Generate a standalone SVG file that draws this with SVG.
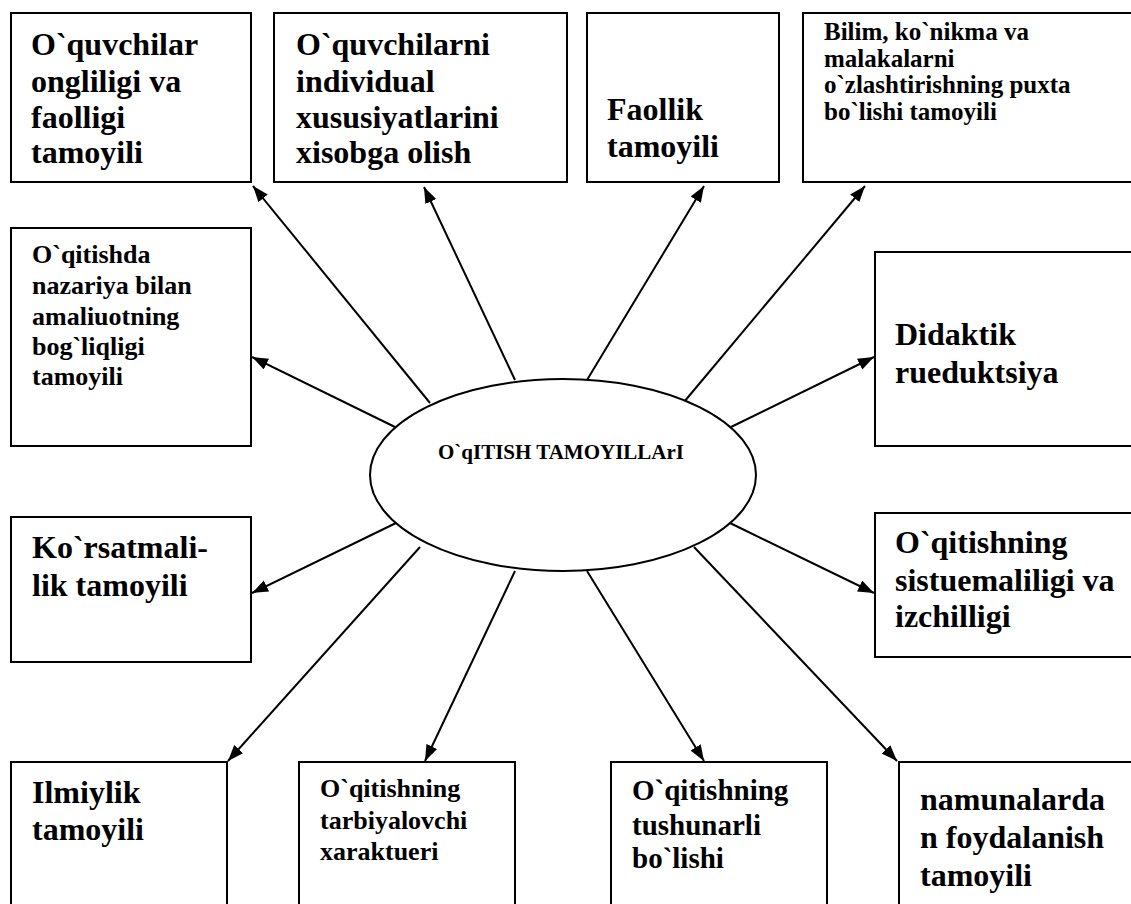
<svg xmlns="http://www.w3.org/2000/svg" width="1131" height="904" viewBox="0 0 1131 904">
<style>
.box{fill:#fff;stroke:#000;stroke-width:2}
.t{font-family:"Liberation Serif","Times New Roman",serif;font-weight:bold;fill:#000}
.big{font-size:32px}
.mid{font-size:26px}
.sm{font-size:25px}
.c{stroke:#000;stroke-width:2;fill:none;marker-end:url(#ah)}
</style>
<defs>
<marker id="ah" markerUnits="userSpaceOnUse" markerWidth="18" markerHeight="14" refX="16" refY="6" orient="auto">
<path d="M0,0 L16,6 L0,12 z" fill="#000"/>
</marker>
</defs>
<rect width="1131" height="904" fill="#fff"/>
<g id="connectors">
<line class="c" x1="430" y1="403" x2="253" y2="186"/>
<line class="c" x1="515" y1="380" x2="424" y2="187"/>
<line class="c" x1="587" y1="380" x2="704" y2="186"/>
<line class="c" x1="684" y1="402" x2="865" y2="186"/>
<line class="c" x1="395" y1="427" x2="252" y2="357"/>
<line class="c" x1="731" y1="427" x2="874" y2="357"/>
<line class="c" x1="396" y1="523" x2="252" y2="593"/>
<line class="c" x1="420" y1="547" x2="228" y2="761"/>
<line class="c" x1="515" y1="571" x2="425" y2="761"/>
<line class="c" x1="730" y1="523" x2="874" y2="593"/>
<line class="c" x1="587" y1="571" x2="704" y2="761"/>
<line class="c" x1="694" y1="547" x2="897" y2="761"/>
</g>
<g id="center">
<ellipse cx="563" cy="475" rx="193" ry="96" fill="#fff" stroke="#000" stroke-width="2"/>
<text class="t" x="561" y="459" font-size="21" text-anchor="middle">O`qITISH TAMOYILLArI</text>
</g>
<g id="n1">
<rect class="box" x="11" y="13" width="240" height="169"/>
<text class="t big" x="31"><tspan x="31" y="55">O`quvchilar</tspan><tspan x="31" y="92">ongliligi va</tspan><tspan x="31" y="128">faolligi</tspan><tspan x="31" y="163">tamoyili</tspan></text>
</g>
<g id="n2">
<rect class="box" x="274" y="13" width="293" height="169"/>
<text class="t big"><tspan x="296" y="55">O`quvchilarni</tspan><tspan x="296" y="92">individual</tspan><tspan x="296" y="128">xususiyatlarini</tspan><tspan x="296" y="163">xisobga olish</tspan></text>
</g>
<g id="n3">
<rect class="box" x="587" y="13" width="192" height="169"/>
<text class="t big"><tspan x="607" y="120">Faollik</tspan><tspan x="607" y="157">tamoyili</tspan></text>
</g>
<g id="n4">
<rect class="box" x="803" y="13" width="340" height="169"/>
<text class="t sm"><tspan x="824" y="40">Bilim, ko`nikma va</tspan><tspan x="824" y="67">malakalarni</tspan><tspan x="824" y="93">o`zlashtirishning puxta</tspan><tspan x="824" y="120">bo`lishi tamoyili</tspan></text>
</g>
<g id="n5">
<rect class="box" x="11" y="228" width="240" height="218"/>
<text class="t mid"><tspan x="32" y="263">O`qitishda</tspan><tspan x="32" y="294">nazariya bilan</tspan><tspan x="32" y="325">amaliuotning</tspan><tspan x="32" y="355">bog`liqligi</tspan><tspan x="32" y="385">tamoyili</tspan></text>
</g>
<g id="n6">
<rect class="box" x="875" y="252" width="270" height="194"/>
<text class="t big"><tspan x="895" y="345">Didaktik</tspan><tspan x="895" y="383">rueduktsiya</tspan></text>
</g>
<g id="n7">
<rect class="box" x="11" y="517" width="240" height="145"/>
<text class="t big"><tspan x="32" y="558">Ko`rsatmali-</tspan><tspan x="32" y="596">lik tamoyili</tspan></text>
</g>
<g id="n8">
<rect class="box" x="11" y="762" width="216" height="160"/>
<text class="t big"><tspan x="32" y="803">Ilmiylik</tspan><tspan x="32" y="840">tamoyili</tspan></text>
</g>
<g id="n9">
<rect class="box" x="299" y="762" width="216" height="160"/>
<text class="t mid"><tspan x="320" y="797">O`qitishning</tspan><tspan x="320" y="829">tarbiyalovchi</tspan><tspan x="320" y="860">xaraktueri</tspan></text>
</g>
<g id="n10">
<rect class="box" x="875" y="513" width="270" height="144"/>
<text class="t big"><tspan x="895" y="553">O`qitishning</tspan><tspan x="895" y="591">sistuemaliligi va</tspan><tspan x="895" y="627">izchilligi</tspan></text>
</g>
<g id="n11">
<rect class="box" x="611" y="762" width="216" height="160"/>
<text class="t" font-size="29"><tspan x="632" y="800">O`qitishning</tspan><tspan x="632" y="835">tushunarli</tspan><tspan x="632" y="868">bo`lishi</tspan></text>
</g>
<g id="n12">
<rect class="box" x="899" y="762" width="250" height="160"/>
<text class="t big"><tspan x="920" y="810">namunalarda</tspan><tspan x="920" y="848">n foydalanish</tspan><tspan x="920" y="886">tamoyili</tspan></text>
</g>
</svg>
